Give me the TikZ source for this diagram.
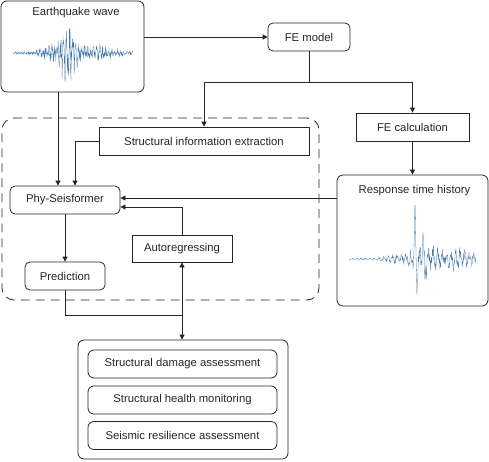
\documentclass[tikz,border=0pt]{standalone}
\usepackage{fontspec}
\setmainfont{Liberation Sans}
\usetikzlibrary{arrows.meta}
\begin{document}
\begin{tikzpicture}[x=1pt,y=-1pt,
  every node/.style={font=\fontsize{11.3}{13}\selectfont, text=black!85},
  ln/.style={line width=0.8pt, draw=black!85},
  arr/.style={ln, -{Triangle[length=5pt,width=5pt]}},
  darr/.style={ln, {Triangle[length=5pt,width=5pt]}-{Triangle[length=5pt,width=5pt]}},
  bx/.style={ln, rectangle, minimum height=28pt, inner sep=0pt},
  rbx/.style={bx, rounded corners=5pt},
  panel/.style={ln, rectangle, rounded corners=6pt, inner sep=0pt},
  lbl/.style={inner sep=0pt},
  wave/.style={draw={rgb,255:red,70;green,120;blue,170}, line width=0.3pt}]
\useasboundingbox (0,0) rectangle (489,461);

% dashed group
\node[ln, dash pattern=on 9pt off 6pt, rectangle, rounded corners=12pt,
      minimum width=317pt, minimum height=182pt, inner sep=0pt] (grp) at (160.5,209) {};

% top panels
\node[panel, minimum width=143pt, minimum height=91pt] (eq) at (72.5,46.5) {};
\node[lbl] (eqt) at (76,13) {Earthquake wave};
\node[rbx, minimum width=82pt] (fe) at (309,37) {FE model};
\node[bx, minimum width=113pt] (fec) at (412.5,127) {FE calculation};
\node[panel, minimum width=151pt, minimum height=131pt] (resp) at (412.5,240.5) {};
\node[lbl] (respt) at (414.5,191) {Response time history};

% inside group
\node[bx, minimum width=210pt] (sie) at (204,141) {Structural information extraction};
\node[rbx, minimum width=110pt] (phy) at (65,200) {Phy-Seisformer};
\node[bx, minimum width=100pt, minimum height=27pt] (auto) at (182,248.5) {Autoregressing};
\node[rbx, minimum width=80pt] (pred) at (65,276) {Prediction};

% applications
\node[panel, minimum width=210pt, minimum height=119pt] (app) at (183,399.5) {};
\node[rbx, rounded corners=6pt, minimum width=189pt] (a1) at (182.5,364) {Structural damage assessment};
\node[rbx, rounded corners=6pt, minimum width=189pt] (a2) at (182.5,400) {Structural health monitoring};
\node[rbx, rounded corners=6pt, minimum width=189pt] (a3) at (182.5,435.5) {Seismic resilience assessment};

% waves
\pgfmathsetseed{11}
\draw[wave] plot[domain=13:133, samples=450, variable=\x]
  (\x, {53 - (1.2 + 31*exp(-min(((\x-67)/9)^2,20)) + 7*exp(-min(((\x-50)/13)^2,20)) + 8*exp(-min(((\x-95)/25)^2,20)))*(0.6*rand + 0.4*sin(120*mod(\x,3)))});
\draw[wave] plot[domain=349:476, samples=360, variable=\x]
  (\x, {259 - (1 + 4*exp(-min(((\x-392)/10)^2,20)) + 16*exp(-min(((\x-422)/16)^2,20)) + 11*exp(-min(((\x-456)/22)^2,20)))*(0.5*sin(80*mod(\x,9)) + 0.5*rand)
        - 44*exp(-min(((\x-415)/0.9)^2,20)) + 24*exp(-min(((\x-417)/0.9)^2,20))
        - 24*exp(-min(((\x-423)/0.9)^2,20)) + 20*exp(-min(((\x-425)/0.9)^2,20))});

% connectors
\draw[arr] (eq.east |- fe.west) -- (fe.west);
\coordinate (split) at (309,82);
\draw[ln] (fe.south) -- (split);
\draw[arr] (split) -| (sie.north);
\draw[arr] (split) -| (fec.north);
\draw[arr] (fec.south) -- (resp.north);
\draw[arr] ([xshift=-14.5pt]eq.south) -- ([xshift=-14.5pt]eq.south |- phy.north);
\draw[arr] (sie.west) -| ([xshift=10pt]phy.north);
\coordinate (pin1) at ([yshift=2pt]phy.east);
\coordinate (pin2) at ([yshift=-7pt]phy.east);
\draw[arr] (resp.west |- pin1) -- (pin1);
\draw[arr] (auto.north) |- (pin2);
\draw[arr] (phy.south) -- (pred.north);
\coordinate (jn) at (auto.south |- 0,315);
\draw[ln] (pred.south) |- (jn);
\draw[darr] (auto.south) -- (auto.south |- app.north);
\end{tikzpicture}
\end{document}
